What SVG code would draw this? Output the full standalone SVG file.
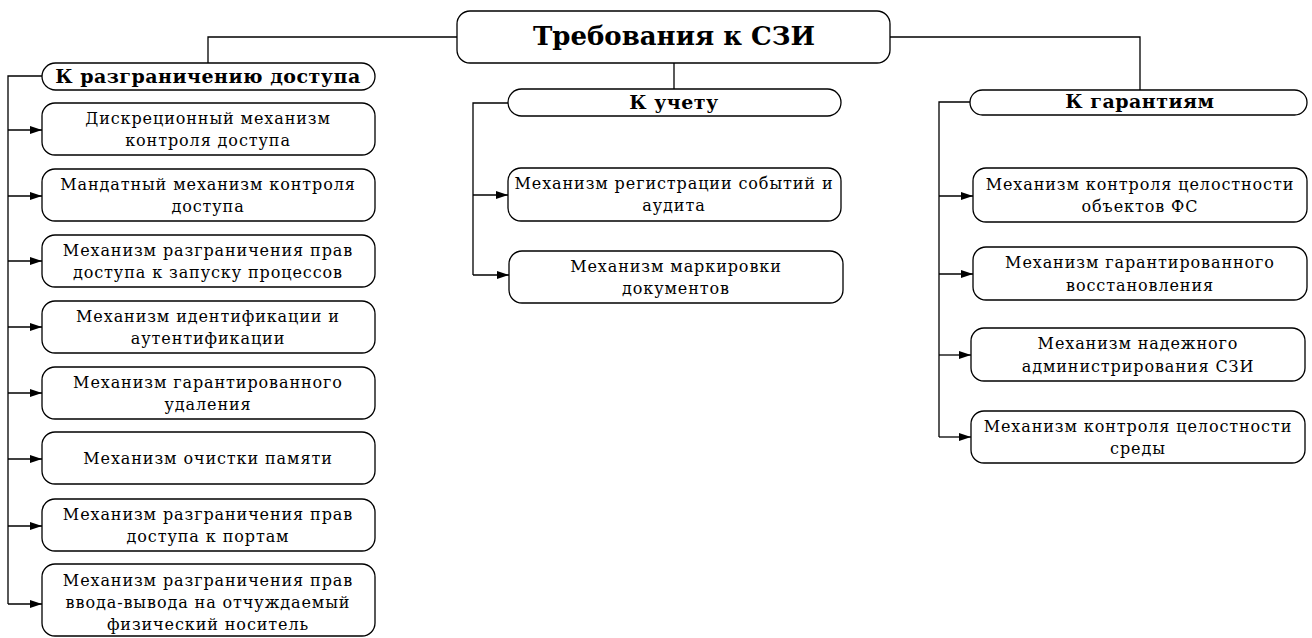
<svg xmlns="http://www.w3.org/2000/svg" width="1312" height="638" viewBox="0 0 1312 638">
<defs>
<marker id="arr" viewBox="0 0 12 8" refX="12" refY="4" markerWidth="12" markerHeight="8" markerUnits="userSpaceOnUse" orient="auto">
<path d="M0,0 L12,4 L0,8 Z" fill="#000"/>
</marker>
<style>
.box{fill:#fff;stroke:#000;stroke-width:1.3}
.ln{fill:none;stroke:#000;stroke-width:1.3}
.arw{fill:none;stroke:#000;stroke-width:1.3;marker-end:url(#arr)}
.t{font-family:'DejaVu Serif',serif;font-size:16px;fill:#000;text-anchor:middle;letter-spacing:0.9px}
.h{font-family:'DejaVu Serif',serif;font-weight:bold;font-size:19px;fill:#000;text-anchor:middle;letter-spacing:0.5px}
.title{font-family:'DejaVu Serif',serif;font-weight:bold;font-size:26px;fill:#000;text-anchor:middle}
</style>
</defs>
<rect width="1312" height="638" fill="#fff"/>
<g id="connectors">
<polyline class="ln" points="457,37 208,37 208,63"/>
<polyline class="ln" points="890,37 1140,37 1140,90"/>
<line class="ln" x1="674" y1="63" x2="674" y2="89"/>
<polyline class="ln" points="42,76 8,76 8,604"/>
<line class="arw" x1="8" y1="130" x2="42" y2="130"/>
<line class="arw" x1="8" y1="196" x2="42" y2="196"/>
<line class="arw" x1="8" y1="261" x2="42" y2="261"/>
<line class="arw" x1="8" y1="327" x2="42" y2="327"/>
<line class="arw" x1="8" y1="393" x2="42" y2="393"/>
<line class="arw" x1="8" y1="459" x2="42" y2="459"/>
<line class="arw" x1="8" y1="526" x2="42" y2="526"/>
<line class="arw" x1="8" y1="604" x2="42" y2="604"/>
<polyline class="ln" points="508,103 473,103 473,275"/>
<line class="arw" x1="473" y1="195" x2="508" y2="195"/>
<line class="arw" x1="473" y1="275" x2="509" y2="275"/>
<polyline class="ln" points="970,102 939,102 939,437"/>
<line class="arw" x1="939" y1="196" x2="973" y2="196"/>
<line class="arw" x1="939" y1="274" x2="973" y2="274"/>
<line class="arw" x1="939" y1="355" x2="971" y2="355"/>
<line class="arw" x1="939" y1="437" x2="971" y2="437"/>
</g>
<g id="root">
<rect class="box" x="457" y="11" width="433" height="52" rx="13"/>
<text class="title" x="674" y="45">Требования к СЗИ</text>
</g>
<g id="access">
<rect class="box" x="42" y="63" width="333" height="27" rx="13.5"/>
<text class="h" x="208" y="83">К разграничению доступа</text>
</g>
<g id="a1">
<rect class="box" x="42" y="103" width="333" height="52" rx="13"/>
<text class="t" x="208" y="124">Дискреционный механизм</text>
<text class="t" x="208" y="146">контроля доступа</text>
</g>
<g id="a2">
<rect class="box" x="42" y="169" width="333" height="52" rx="13"/>
<text class="t" x="208" y="190">Мандатный механизм контроля</text>
<text class="t" x="208" y="212">доступа</text>
</g>
<g id="a3">
<rect class="box" x="42" y="235" width="333" height="52" rx="13"/>
<text class="t" x="208" y="256">Механизм разграничения прав</text>
<text class="t" x="208" y="278">доступа к запуску процессов</text>
</g>
<g id="a4">
<rect class="box" x="42" y="301" width="333" height="52" rx="13"/>
<text class="t" x="208" y="322">Механизм идентификации и</text>
<text class="t" x="208" y="344">аутентификации</text>
</g>
<g id="a5">
<rect class="box" x="42" y="367" width="333" height="52" rx="13"/>
<text class="t" x="208" y="388">Механизм гарантированного</text>
<text class="t" x="208" y="410">удаления</text>
</g>
<g id="a6">
<rect class="box" x="42" y="432" width="333" height="52" rx="13"/>
<text class="t" x="208" y="464">Механизм очистки памяти</text>
</g>
<g id="a7">
<rect class="box" x="42" y="499" width="333" height="52" rx="13"/>
<text class="t" x="208" y="520">Механизм разграничения прав</text>
<text class="t" x="208" y="542">доступа к портам</text>
</g>
<g id="a8">
<rect class="box" x="42" y="564" width="333" height="72" rx="13"/>
<text class="t" x="208" y="586">Механизм разграничения прав</text>
<text class="t" x="208" y="608">ввода-вывода на отчуждаемый</text>
<text class="t" x="208" y="630">физический носитель</text>
</g>
<g id="audit">
<rect class="box" x="508" y="89" width="333" height="27" rx="13.5"/>
<text class="h" x="674" y="109">К учету</text>
</g>
<g id="u1">
<rect class="box" x="508" y="168" width="333" height="53" rx="13"/>
<text class="t" x="674" y="189">Механизм регистрации событий и</text>
<text class="t" x="674" y="211">аудита</text>
</g>
<g id="u2">
<rect class="box" x="509" y="251" width="334" height="52" rx="13"/>
<text class="t" x="676" y="272">Механизм маркировки</text>
<text class="t" x="676" y="294">документов</text>
</g>
<g id="guarantee">
<rect class="box" x="970" y="90" width="337" height="25" rx="12.5"/>
<text class="h" x="1140" y="108">К гарантиям</text>
</g>
<g id="g1">
<rect class="box" x="973" y="168" width="334" height="54" rx="13"/>
<text class="t" x="1140" y="190">Механизм контроля целостности</text>
<text class="t" x="1140" y="212">объектов ФС</text>
</g>
<g id="g2">
<rect class="box" x="973" y="247" width="334" height="53" rx="13"/>
<text class="t" x="1140" y="268">Механизм гарантированного</text>
<text class="t" x="1140" y="291">восстановления</text>
</g>
<g id="g3">
<rect class="box" x="971" y="328" width="334" height="53" rx="13"/>
<text class="t" x="1138" y="349">Механизм надежного</text>
<text class="t" x="1138" y="372">администрирования СЗИ</text>
</g>
<g id="g4">
<rect class="box" x="971" y="411" width="334" height="52" rx="13"/>
<text class="t" x="1138" y="432">Механизм контроля целостности</text>
<text class="t" x="1138" y="454">среды</text>
</g>
</svg>
